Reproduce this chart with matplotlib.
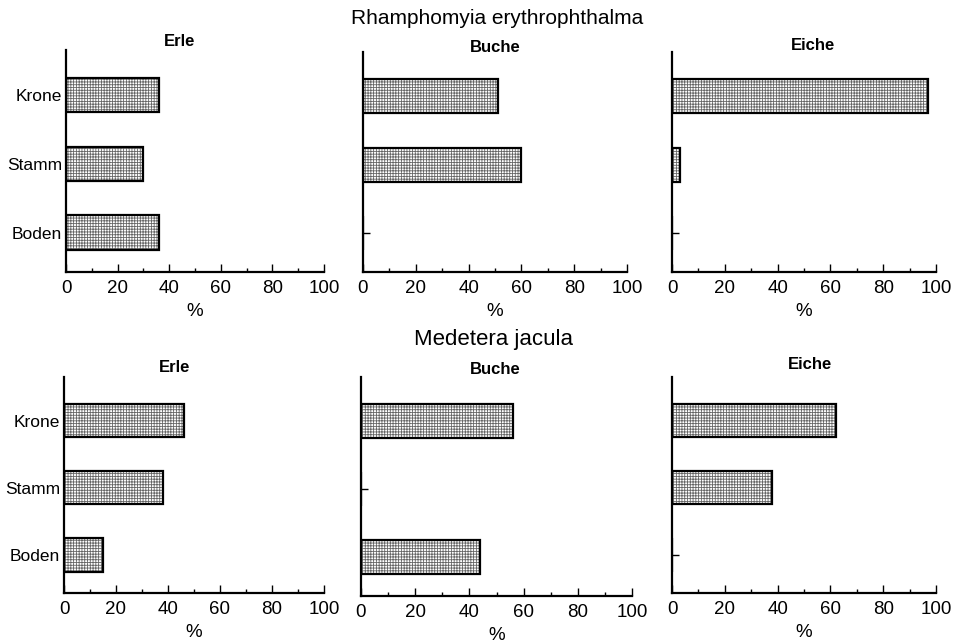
import matplotlib
matplotlib.use("Agg")
import matplotlib.pyplot as plt
from matplotlib.ticker import MultipleLocator

plt.rcParams['font.family'] = ['Liberation Sans', 'DejaVu Sans']
plt.rcParams['hatch.linewidth'] = 0.6

categories = ["Boden", "Stamm", "Krone"]
trees = ["Erle", "Buche", "Eiche"]
species = ["Rhamphomyia erythrophthalma", "Medetera jacula"]

# values per species, per tree: [Boden, Stamm, Krone] in %
rham_erle = [36, 30, 36]
rham_buche = [0, 60, 51]
rham_eiche = [0, 3, 97]
mede_erle = [15, 38, 46]
mede_buche = [44, 0, 56]
mede_eiche = [0, 38, 62]
xticks = [0, 20, 40, 60, 80, 100]

data = [[rham_erle, rham_buche, rham_eiche], [mede_erle, mede_buche, mede_eiche]]

W, H = 960, 643
fig = plt.figure(figsize=(W / 100, H / 100), dpi=100)

# axes boxes in pixels: (left, right, top, bottom)
boxes = [
    [(66, 324, 50, 272), (363, 627, 52, 272), (672, 936, 52, 272)],
    [(64, 324, 377, 593), (361, 632, 377, 596), (672, 936, 377, 593)],
]
title_pos = [
    [(180, 42), (495, 47), (813, 45)],
    [(175, 367), (495, 369), (810, 365)],
]
sup_pos = [(497, 18), (494, 340)]
sup_size = [15, 16]

for r in range(2):
    fig.text(sup_pos[r][0] / W, 1 - sup_pos[r][1] / H, species[r],
             ha='center', va='center', fontsize=sup_size[r])
    for c in range(3):
        l, rr, t, b = boxes[r][c]
        ax = fig.add_axes([l / W, 1 - b / H, (rr - l) / W, (b - t) / H])
        ypos = list(range(len(categories)))
        vals = data[r][c]
        ax.barh(ypos, vals, height=0.5, color='white', edgecolor='#666666',
                hatch='++++++', linewidth=0, zorder=2)
        ax.barh(ypos, vals, height=0.5, fill=False, edgecolor='black',
                linewidth=1.6, zorder=3)
        ax.set_xlim(0, 100)
        ax.set_ylim(-0.57, 2.65)
        ax.set_xticks(xticks)
        ax.xaxis.set_minor_locator(MultipleLocator(10))
        ax.set_yticks(ypos)
        if c == 0:
            ax.set_yticklabels(categories, fontsize=12.5)
        else:
            ax.set_yticklabels([])
        ax.tick_params(axis='x', direction='in', length=6, width=1, labelsize=13.5, pad=6)
        ax.tick_params(axis='x', which='minor', direction='in', length=3, width=1)
        ax.tick_params(axis='y', direction='in', length=5, width=1, pad=3)
        for s in ['top', 'right']:
            ax.spines[s].set_visible(False)
        for s in ['left', 'bottom']:
            ax.spines[s].set_linewidth(1.6)
        ax.set_xlabel('%', fontsize=13.5, labelpad=4)
        fig.text(title_pos[r][c][0] / W, 1 - title_pos[r][c][1] / H, trees[c],
                 ha='center', va='center', fontsize=12, fontweight='bold')

fig.savefig('out.png', dpi=100, facecolor='white')
